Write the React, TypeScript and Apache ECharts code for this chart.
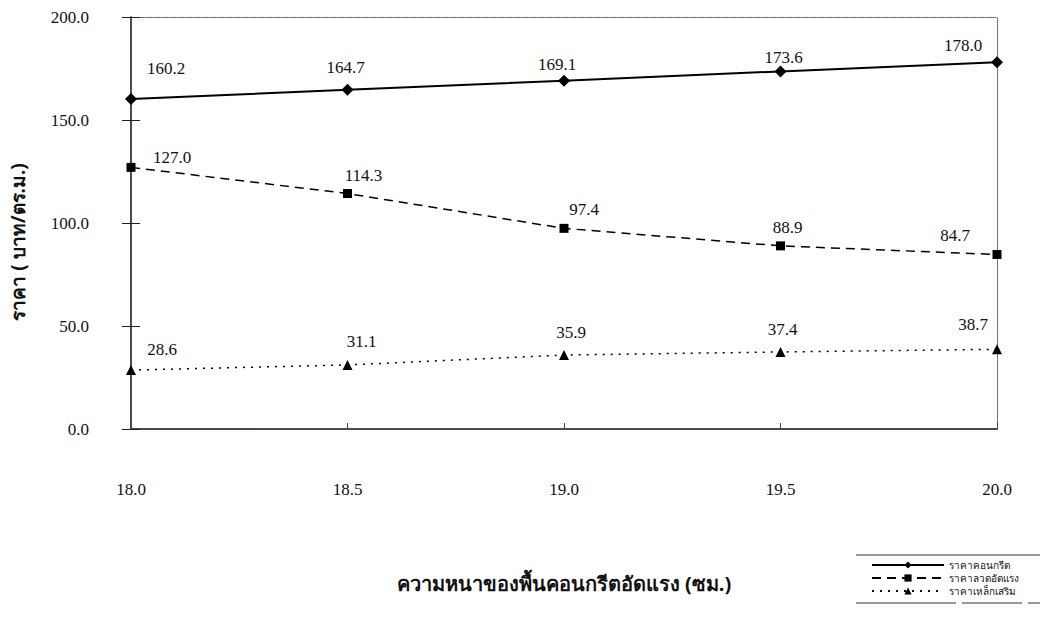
import React, { useEffect, useRef } from "react";
import * as echarts from "echarts";

const categories = ["18.0", "18.5", "19.0", "19.5", "20.0"];
const concrete = [160.2, 164.7, 169.1, 173.6, 178.0];
const strand = [127.0, 114.3, 97.4, 88.9, 84.7];
const rebar = [28.6, 31.1, 35.9, 37.4, 38.7];
const seriesNames = ["ราคาคอนกรีต", "ราคาลวดอัดแรง", "ราคาเหล็กเสริม"];
const xTitle = "ความหนาของพื้นคอนกรีตอัดแรง (ซม.)";
const yTitle = "ราคา ( บาท/ตร.ม.)";

// label offsets (pixels) relative to each point
const concreteOff = [[35, -30], [-2, -22], [-7, -16], [3, -14], [-34, -17]];
const strandOff = [[41, -10], [16, -18], [20, -19], [7, -18], [-42, -19]];
const rebarOff = [[31, -21], [14, -23], [7, -23], [2, -22], [-24, -25]];

const SERIF = "Liberation Serif";
const THAI = "Noto Sans";

function withLabels(vals: number[], offs: number[][]) {
  return vals.map((v, i) => ({
    value: v,
    label: {
      show: true,
      position: "inside",
      offset: offs[i],
      fontFamily: SERIF,
      fontSize: 17,
      color: "#111",
    },
  }));
}

export default function App() {
  const ref = useRef<HTMLDivElement>(null);
  useEffect(() => {
    if (!ref.current) return;
    const chart = echarts.init(ref.current, undefined, { renderer: "svg" });
    const labelBase = {
      show: true,
      position: "inside" as const,
      color: "#111",
      fontFamily: SERIF,
      fontSize: 17,
      formatter: (p: any) => Number(p.value).toFixed(1),
    };
    chart.setOption({
      animation: false,
      backgroundColor: "#fff",
      grid: { left: 128, right: 48, top: 17, bottom: 189, containLabel: false },
      legend: {
        orient: "vertical",
        left: 866,
        top: 555,
        itemWidth: 72,
        itemHeight: 9,
        itemGap: 3,
        textStyle: { fontFamily: THAI, fontSize: 10, color: "#111" },
        data: seriesNames,
      },
      graphic: [
        {
          type: "line",
          shape: { x1: 856, y1: 555, x2: 1040, y2: 555 },
          style: { stroke: "#333", lineWidth: 1 },
        },
        {
          type: "line",
          shape: { x1: 856, y1: 603, x2: 1040, y2: 603 },
          style: { stroke: "#333", lineWidth: 1, lineDash: [100, 6, 60, 6] },
        },
      ],
      xAxis: [
        {
          type: "category",
          data: categories,
          boundaryGap: false,
          axisLine: { lineStyle: { color: "#111", width: 1.5 } },
          axisTick: { show: true, inside: true, length: 6, lineStyle: { color: "#444" } },
          axisLabel: { margin: 52, fontFamily: SERIF, fontSize: 17, color: "#111" },
          name: xTitle,
          nameLocation: "middle",
          nameGap: 144,
          nameTextStyle: { fontFamily: THAI, fontSize: 20, fontWeight: "bold", color: "#111" },
          splitLine: { show: false },
        },
        {
          type: "category",
          data: categories,
          boundaryGap: false,
          position: "top",
          axisLine: { show: true, onZero: false, lineStyle: { color: "#555", width: 1, type: "dotted" } },
          axisTick: { show: false },
          axisLabel: { show: false },
        },
      ],
      yAxis: [
        {
          type: "value",
          min: 0,
          max: 200,
          interval: 50,
          axisLine: { show: true, lineStyle: { color: "#111", width: 1.5 } },
          axisTick: { show: true, length: 9, lineStyle: { color: "#222" } },
          axisLabel: {
            margin: 42,
            fontFamily: SERIF,
            fontSize: 17,
            color: "#111",
            formatter: (v: number) => v.toFixed(1),
          },
          splitLine: { show: false },
          name: yTitle,
          nameLocation: "middle",
          nameGap: 104,
          nameRotate: 90,
          nameTextStyle: {
            fontFamily: THAI,
            fontSize: 19,
            fontWeight: "bold",
            color: "#111",
            padding: [0, 38, 0, 0],
          },
        },
        {
          type: "value",
          min: 0,
          max: 200,
          interval: 50,
          position: "right",
          axisLine: { show: true, onZero: false, lineStyle: { color: "#555", width: 1, type: "dotted" } },
          axisTick: { show: false },
          axisLabel: { show: false },
          splitLine: { show: false },
        },
        {
          type: "value",
          min: 0,
          max: 200,
          interval: 50,
          position: "left",
          axisLine: { show: false },
          axisTick: { show: true, inside: true, length: 9, lineStyle: { color: "#222" } },
          axisLabel: { show: false },
          splitLine: { show: false },
        },
      ],
      series: [
        {
          name: seriesNames[0],
          type: "line",
          data: withLabels(concrete, concreteOff),
          symbol: "diamond",
          symbolSize: 12,
          itemStyle: { color: "#000" },
          lineStyle: { color: "#000", width: 2, type: "solid" },
          label: labelBase,
        },
        {
          name: seriesNames[1],
          type: "line",
          data: withLabels(strand, strandOff),
          symbol: "rect",
          symbolSize: 9,
          itemStyle: { color: "#000" },
          lineStyle: { color: "#000", width: 1.5, type: [9, 6] },
          label: labelBase,
        },
        {
          name: seriesNames[2],
          type: "line",
          data: withLabels(rebar, rebarOff),
          symbol: "triangle",
          symbolSize: 10,
          itemStyle: { color: "#000" },
          lineStyle: { color: "#000", width: 1.5, type: [2, 6] },
          label: labelBase,
        },
      ],
    });
    return () => chart.dispose();
  }, []);
  return <div ref={ref} style={{ width: 1045, height: 618, position: "absolute", left: 0, top: 0 }} />;
}
